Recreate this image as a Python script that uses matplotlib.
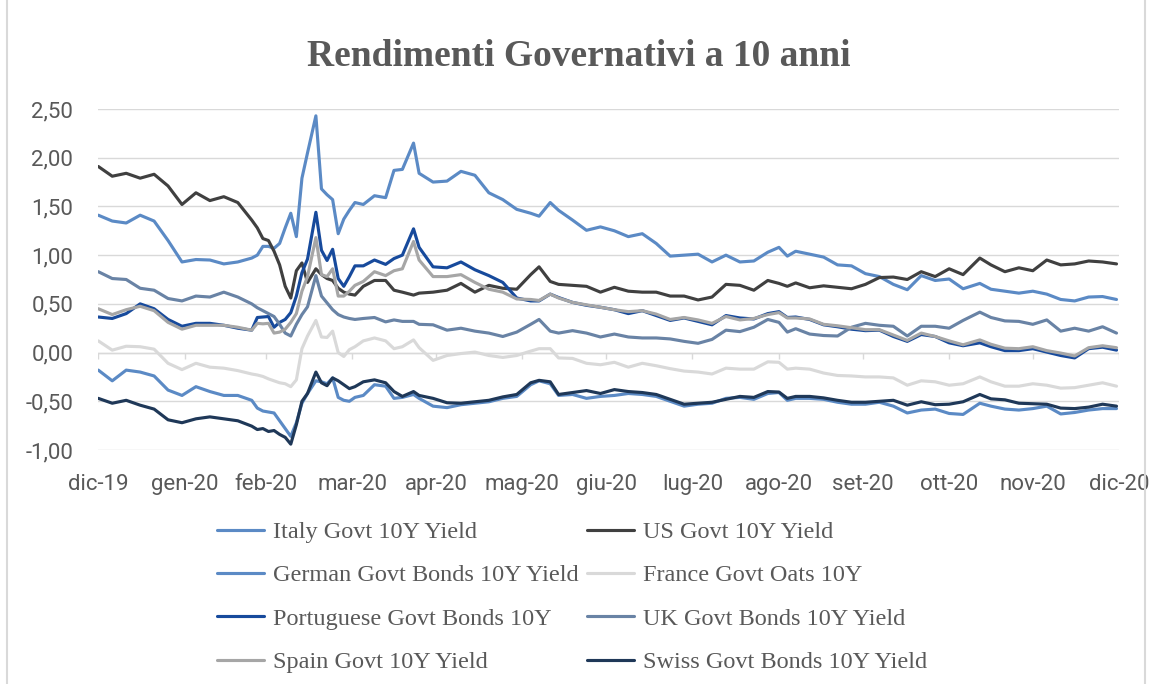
import matplotlib
matplotlib.use("Agg")
import matplotlib.pyplot as plt
from matplotlib.lines import Line2D
from matplotlib.ticker import FuncFormatter, MultipleLocator
import pandas as pd

# sample days, counted from 2020-01-01 (denser around the March spike)
days = [0, 5, 10, 15, 20, 25, 30, 35, 40, 45,
        50, 55, 57, 59, 61, 63, 65, 67, 69, 71,
        73, 75, 78, 80, 82, 84, 86, 88, 90, 92,
        95, 99, 103, 106, 109, 113, 115, 120, 125, 130,
        135, 140, 145, 150, 155, 158, 162, 165, 170, 175,
        180, 185, 190, 195, 200, 205, 210, 215, 220, 225,
        230, 235, 240, 244, 247, 250, 255, 260, 265, 270,
        275, 280, 285, 290, 295, 300, 305, 310, 316, 320,
        325, 330, 335, 340, 345, 350, 355, 360, 365]

italy = [1.41, 1.35, 1.33, 1.41, 1.35, 1.15, 0.93, 0.955, 0.95, 0.91,
         0.93, 0.97, 1.00, 1.09, 1.09, 1.07, 1.12, 1.28, 1.43, 1.19,
         1.79, 2.05, 2.43, 1.68, 1.62, 1.57, 1.22, 1.37, 1.46, 1.54,
         1.52, 1.61, 1.59, 1.87, 1.88, 2.15, 1.84, 1.75, 1.76, 1.86,
         1.82, 1.64, 1.57, 1.47, 1.43, 1.40, 1.54, 1.46, 1.36, 1.255,
         1.29, 1.25, 1.19, 1.22, 1.12, 0.99, 1.00, 1.01, 0.93, 1.00,
         0.93, 0.94, 1.03, 1.08, 0.99, 1.04, 1.01, 0.98, 0.90, 0.89,
         0.81, 0.78, 0.70, 0.645, 0.79, 0.74, 0.755, 0.655, 0.71, 0.65,
         0.63, 0.61, 0.63, 0.60, 0.545, 0.53, 0.57, 0.575, 0.545]

us = [1.91, 1.81, 1.84, 1.79, 1.83, 1.71, 1.52, 1.64, 1.56, 1.60,
      1.54, 1.36, 1.28, 1.17, 1.15, 1.04, 0.90, 0.68, 0.56, 0.84,
      0.92, 0.72, 0.86, 0.80, 0.76, 0.74, 0.66, 0.62, 0.60, 0.59,
      0.68, 0.74, 0.74, 0.64, 0.62, 0.59, 0.61, 0.62, 0.64, 0.71,
      0.62, 0.69, 0.66, 0.65, 0.80, 0.88, 0.73, 0.70, 0.69, 0.68,
      0.62, 0.67, 0.63, 0.62, 0.62, 0.58, 0.58, 0.54, 0.57, 0.70,
      0.69, 0.64, 0.74, 0.71, 0.68, 0.715, 0.665, 0.685, 0.67, 0.655,
      0.70, 0.77, 0.775, 0.75, 0.83, 0.78, 0.86, 0.80, 0.97, 0.90,
      0.83, 0.87, 0.84, 0.95, 0.90, 0.91, 0.94, 0.93, 0.91]

germany = [-0.18, -0.29, -0.18, -0.20, -0.24, -0.385, -0.44, -0.35, -0.40, -0.44,
           -0.44, -0.49, -0.57, -0.60, -0.61, -0.62, -0.70, -0.78, -0.86, -0.72,
           -0.52, -0.42, -0.29, -0.30, -0.32, -0.26, -0.46, -0.49, -0.50, -0.46,
           -0.44, -0.33, -0.345, -0.47, -0.46, -0.43, -0.47, -0.55, -0.565, -0.535,
           -0.52, -0.505, -0.47, -0.45, -0.33, -0.29, -0.32, -0.44, -0.43, -0.47,
           -0.45, -0.44, -0.42, -0.43, -0.45, -0.50, -0.55, -0.53, -0.52, -0.47,
           -0.46, -0.48, -0.42, -0.41, -0.49, -0.47, -0.47, -0.48, -0.51, -0.53,
           -0.53, -0.51, -0.55, -0.62, -0.59, -0.58, -0.625, -0.635, -0.52, -0.55,
           -0.58, -0.59, -0.575, -0.55, -0.63, -0.615, -0.59, -0.575, -0.575]

france = [0.12, 0.025, 0.065, 0.06, 0.035, -0.11, -0.175, -0.11, -0.15, -0.16,
          -0.185, -0.22, -0.23, -0.245, -0.27, -0.29, -0.31, -0.32, -0.35, -0.28,
          0.04, 0.17, 0.33, 0.16, 0.155, 0.22, 0.0, -0.04, 0.03, 0.06,
          0.12, 0.15, 0.12, 0.04, 0.06, 0.13, 0.05, -0.08, -0.03, -0.01,
          0.005, -0.03, -0.05, -0.03, 0.015, 0.04, 0.04, -0.055, -0.06, -0.11,
          -0.125, -0.10, -0.15, -0.11, -0.135, -0.165, -0.19, -0.20, -0.22, -0.16,
          -0.17, -0.17, -0.095, -0.10, -0.17, -0.16, -0.17, -0.21, -0.235, -0.24,
          -0.25, -0.25, -0.26, -0.335, -0.29, -0.30, -0.335, -0.32, -0.25, -0.30,
          -0.345, -0.345, -0.32, -0.335, -0.365, -0.36, -0.335, -0.31, -0.345]

portugal = [0.365, 0.35, 0.40, 0.50, 0.45, 0.34, 0.27, 0.30, 0.30, 0.28,
            0.25, 0.23, 0.36, 0.365, 0.37, 0.26, 0.31, 0.34, 0.41, 0.58,
            0.82, 0.96, 1.44, 1.05, 0.945, 1.06, 0.76, 0.68, 0.78, 0.89,
            0.89, 0.95, 0.905, 0.965, 1.0, 1.27, 1.08, 0.88, 0.87, 0.93,
            0.85, 0.79, 0.72, 0.56, 0.53, 0.53, 0.60, 0.565, 0.515, 0.485,
            0.465, 0.44, 0.40, 0.43, 0.38, 0.33, 0.355, 0.32, 0.285, 0.38,
            0.355, 0.345, 0.40, 0.42, 0.36, 0.365, 0.34, 0.285, 0.265, 0.24,
            0.225, 0.23, 0.165, 0.115, 0.185, 0.165, 0.10, 0.07, 0.10, 0.06,
            0.02, 0.02, 0.04, 0.005, -0.03, -0.055, 0.04, 0.055, 0.025]

uk = [0.83, 0.76, 0.75, 0.66, 0.64, 0.555, 0.53, 0.58, 0.57, 0.62,
      0.57, 0.50, 0.46, 0.43, 0.40, 0.37, 0.29, 0.20, 0.17, 0.29,
      0.39, 0.47, 0.79, 0.58, 0.51, 0.44, 0.39, 0.365, 0.35, 0.34,
      0.35, 0.36, 0.315, 0.335, 0.32, 0.32, 0.29, 0.285, 0.23, 0.25,
      0.22, 0.20, 0.165, 0.21, 0.29, 0.34, 0.22, 0.20, 0.225, 0.20,
      0.16, 0.19, 0.16, 0.15, 0.15, 0.14, 0.115, 0.095, 0.135, 0.23,
      0.215, 0.26, 0.34, 0.31, 0.21, 0.245, 0.19, 0.175, 0.17, 0.26,
      0.30, 0.28, 0.27, 0.17, 0.27, 0.27, 0.25, 0.33, 0.415, 0.36,
      0.325, 0.32, 0.29, 0.335, 0.22, 0.25, 0.22, 0.265, 0.20]

spain = [0.45, 0.39, 0.44, 0.475, 0.43, 0.31, 0.24, 0.28, 0.28, 0.28,
         0.26, 0.23, 0.30, 0.295, 0.30, 0.20, 0.21, 0.24, 0.31, 0.40,
         0.63, 0.78, 1.18, 0.80, 0.78, 0.86, 0.58, 0.58, 0.63, 0.69,
         0.73, 0.83, 0.79, 0.84, 0.86, 1.14, 0.95, 0.78, 0.78, 0.80,
         0.72, 0.65, 0.62, 0.55, 0.545, 0.535, 0.60, 0.56, 0.515, 0.49,
         0.465, 0.44, 0.42, 0.43, 0.395, 0.34, 0.36, 0.335, 0.30, 0.37,
         0.335, 0.35, 0.39, 0.41, 0.355, 0.355, 0.345, 0.29, 0.275, 0.255,
         0.235, 0.235, 0.18, 0.125, 0.20, 0.165, 0.12, 0.08, 0.13, 0.085,
         0.045, 0.04, 0.06, 0.02, -0.005, -0.035, 0.05, 0.07, 0.05]

swiss = [-0.47, -0.52, -0.49, -0.54, -0.58, -0.69, -0.72, -0.68, -0.66, -0.68,
         -0.70, -0.755, -0.79, -0.78, -0.81, -0.80, -0.84, -0.87, -0.94, -0.74,
         -0.50, -0.42, -0.20, -0.31, -0.34, -0.26, -0.29, -0.33, -0.37, -0.35,
         -0.30, -0.28, -0.31, -0.40, -0.45, -0.40, -0.44, -0.47, -0.515, -0.52,
         -0.505, -0.49, -0.455, -0.43, -0.31, -0.285, -0.30, -0.43, -0.41, -0.39,
         -0.42, -0.38, -0.40, -0.41, -0.43, -0.48, -0.53, -0.52, -0.51, -0.48,
         -0.45, -0.46, -0.40, -0.405, -0.47, -0.45, -0.45, -0.465, -0.49, -0.51,
         -0.51, -0.50, -0.49, -0.54, -0.505, -0.535, -0.53, -0.505, -0.43, -0.475,
         -0.485, -0.52, -0.525, -0.53, -0.57, -0.575, -0.56, -0.53, -0.55]

month_labels = ["dic-19", "gen-20", "feb-20", "mar-20", "apr-20", "mag-20", "giu-20",
                "lug-20", "ago-20", "set-20", "ott-20", "nov-20", "dic-20"]

series = [
    ("Italy Govt 10Y Yield", italy, "#5B8AC5"),
    ("US Govt 10Y Yield", us, "#404040"),
    ("German Govt Bonds 10Y Yield", germany, "#5B8AC5"),
    ("France Govt Oats 10Y", france, "#D9D9D9"),
    ("Portuguese Govt Bonds 10Y", portugal, "#174A9C"),
    ("UK Govt Bonds 10Y Yield", uk, "#6983A5"),
    ("Spain Govt 10Y Yield", spain, "#A6A6A6"),
    ("Swiss Govt Bonds 10Y Yield", swiss, "#1F3858"),
]

TXT = "#595959"
GRID = "#D9D9D9"
SANS = ["Roboto", "DejaVu Sans"]
SERIF = ["Liberation Serif", "DejaVu Serif"]

start = pd.Timestamp("2020-01-01")
dates = start + pd.to_timedelta(days, unit="D")
month_ticks = pd.date_range("2020-01-01", "2021-01-01", freq="MS")

W, H = 1152, 684
fig = plt.figure(figsize=(W / 100, H / 100), dpi=100)
ax = fig.add_axes([98.3 / W, 1 - 450 / H, 1021 / W, 341 / H])

handles = []
for name, vals, color in series:
    (ln,) = ax.plot(dates, vals, color=color, lw=2.25, label=name,
                    solid_joinstyle="round", solid_capstyle="round")
    handles.append(ln)

ax.set_xlim(month_ticks[0], month_ticks[-1])
ax.set_ylim(-1.0, 2.5)
ax.yaxis.set_major_locator(MultipleLocator(0.5))
ax.yaxis.set_major_formatter(FuncFormatter(lambda v, _: f"{v:.2f}".replace(".", ",")))
ax.yaxis.grid(True, color=GRID, lw=1.0)
ax.set_axisbelow(True)
for s in ax.spines.values():
    s.set_visible(False)

ax.set_xticks(month_ticks)
ax.set_xticklabels(month_labels)
ax.tick_params(axis="both", length=0, labelcolor=TXT, labelsize=16)
ax.tick_params(axis="y", pad=18)
ax.tick_params(axis="x", pad=17)
for lab in ax.get_xticklabels() + ax.get_yticklabels():
    lab.set_family(SANS)

# category axis crosses at 0 with small outside ticks
ax.axhline(0, color=GRID, lw=1.0, zorder=0.5)
ax.vlines(month_ticks, -0.07, 0, color=GRID, lw=1.0, zorder=0.5)

fig.text(579 / W, 1 - 57 / H, "Rendimenti Governativi a 10 anni", ha="center",
         va="center", fontsize=27, fontweight="bold", color=TXT, family=SERIF)

order = [0, 2, 4, 6, 1, 3, 5, 7]
fig.legend([handles[i] for i in order], [series[i][0] for i in order], ncol=2,
           loc="upper left", bbox_to_anchor=(217 / W, 1 - 521 / H), frameon=False,
           prop={"family": SERIF, "size": 17.5}, labelcolor=TXT, handlelength=1.95,
           handletextpad=0.35, columnspacing=0.35, labelspacing=0.88,
           borderpad=0, borderaxespad=0)

# chart area border
for xb in (6.7, 1145):
    fig.add_artist(Line2D([xb / W, xb / W], [0, 1], transform=fig.transFigure,
                          color=GRID, lw=1.5))

fig.savefig("out.png", dpi=100)
